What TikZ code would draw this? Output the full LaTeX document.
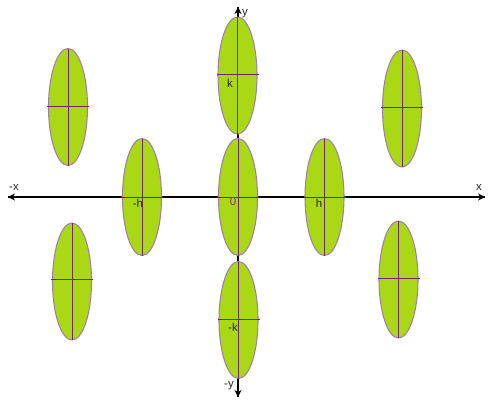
\documentclass[tikz,border=0pt]{standalone}
\usepackage{fontspec}
\setmainfont{Liberation Sans}
\usetikzlibrary{arrows.meta}
\definecolor{leaf}{RGB}{170,216,20}
\definecolor{rim}{RGB}{160,128,170}
\definecolor{axisline}{RGB}{110,40,110}
\definecolor{zerocol}{RGB}{150,40,140}
\tikzset{
  x=0.02cm, y=-0.02cm,
  axisarrow/.style={line width=1.2pt, -{Stealth[length=4pt,width=4pt]}},
  leafshape/.style={fill=leaf, draw=rim, line width=0.6pt},
  midline/.style={draw=axisline, line width=0.45pt},
  lbl/.style={font=\fontsize{6.5}{7.5}\selectfont, text=black!85, inner sep=0pt},
}
\newcommand{\leafat}[4]{% name, cx, cy, line y
  \coordinate (#1) at (#2,#3);
  \filldraw[leafshape] (#1) ellipse[x radius=19.5, y radius=58.5];
  \draw[midline] ([yshift=-0.02cm*58.5]#1) -- ([yshift=0.02cm*58.5]#1);
  \draw[midline] (#2-21,#4) -- (#2+21,#4);
}
\begin{document}
\begin{tikzpicture}
\useasboundingbox (0,0) rectangle (489,399);
\fill[white] (0,0) rectangle (489,399);
% axes
\coordinate (xl) at (8,197);
\coordinate (xr) at (485,197);
\coordinate (yt) at (238,7);
\coordinate (yb) at (238,397);
\draw[axisarrow] (xr) -- (xl);
\draw[axisarrow] (xl) -- (xr);
\draw[axisarrow] (yb) -- (yt);
\draw[axisarrow] (yt) -- (yb);
% leaves
\leafat{tc}{237.5}{75.5}{74}
\leafat{cc}{238}{197}{197}
\leafat{lh}{142}{197}{197}
\leafat{rh}{324.5}{197}{197}
\leafat{bc}{238.5}{320}{319}
\leafat{tl}{68}{107}{106}
\leafat{bl}{72}{281.5}{279}
\leafat{tr}{402}{108.5}{107}
\leafat{br}{398.5}{279.5}{278}
% labels
\node[lbl] (lk) at (230,83) {k};
\node[lbl, text=zerocol] (l0) at (233,202) {0};
\node[lbl] (lmh) at (138,203) {-h};
\node[lbl] (lh) at (319,203) {h};
\node[lbl] (lmk) at (233,327) {-k};
\node[lbl] (lx) at (479,187) {x};
\node[lbl] (lmx) at (14,187) {-x};
\node[lbl] (ly) at (245,14) {y};
\node[lbl] (lmy) at (229,386) {-y};
\end{tikzpicture}
\end{document}
